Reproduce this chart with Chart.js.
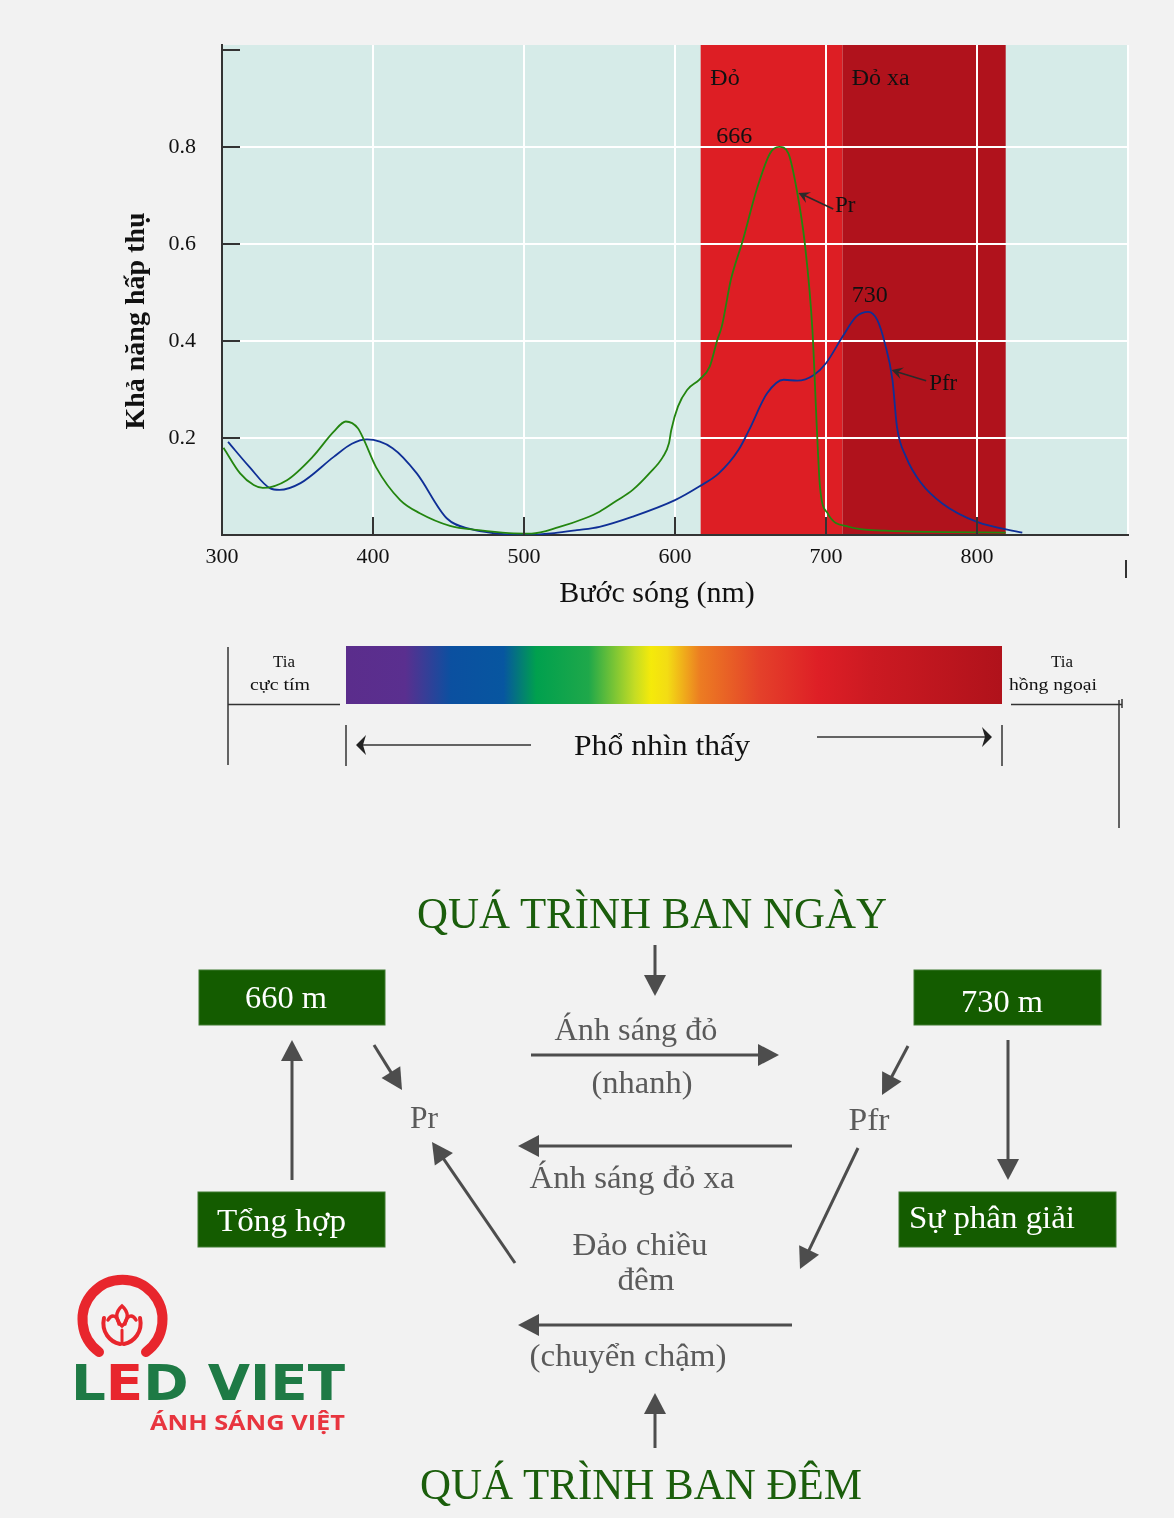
<!DOCTYPE html>
<html lang="vi">
<head>
<meta charset="utf-8">
<title>Phytochrome</title>
<script src="https://cdn.jsdelivr.net/npm/chart.js@4.4.1/dist/chart.umd.min.js"></script>
<style>
  html, body { margin: 0; padding: 0; background: #f2f2f2; }
  #page { position: relative; width: 1174px; height: 1518px; overflow: hidden; }
  #chartBox { position: absolute; left: 0; top: 0; width: 1174px; height: 620px; }
  #diagram { position: absolute; left: 0; top: 0; }
  #diagram text { font-family: "Liberation Serif", serif; }
</style>
</head>
<body>
<div id="page">
  <div id="chartBox"><canvas id="absorb" width="1174" height="620"></canvas></div>
  <svg id="diagram" width="1174" height="1518" viewBox="0 0 1174 1518" xmlns="http://www.w3.org/2000/svg">
    <defs>
      <linearGradient id="rainbow" x1="0" x2="1" y1="0" y2="0">
        <stop offset="0" stop-color="#5b2d8c"/>
        <stop offset="0.09" stop-color="#5a2f8f"/>
        <stop offset="0.16" stop-color="#0b50a0"/>
        <stop offset="0.24" stop-color="#0756a0"/>
        <stop offset="0.29" stop-color="#00a04e"/>
        <stop offset="0.37" stop-color="#1fa84a"/>
        <stop offset="0.44" stop-color="#c4dc24"/>
        <stop offset="0.465" stop-color="#f5ea0a"/>
        <stop offset="0.49" stop-color="#f3dc14"/>
        <stop offset="0.54" stop-color="#ec7c22"/>
        <stop offset="0.63" stop-color="#e4412a"/>
        <stop offset="0.72" stop-color="#de1f26"/>
        <stop offset="0.8" stop-color="#cc1a22"/>
        <stop offset="1" stop-color="#b0121b"/>
      </linearGradient>
    </defs>

    <!-- visible spectrum strip -->
    <rect x="346" y="646" width="656" height="58" fill="url(#rainbow)"/>
    <g stroke="#333" stroke-width="1.5" fill="none">
      <line x1="228" y1="647" x2="228" y2="765"/>
      <line x1="228" y1="704.5" x2="340" y2="704.5"/>
      <line x1="1011" y1="704.5" x2="1122" y2="704.5"/>
      <line x1="1119" y1="700" x2="1119" y2="828"/>
      <line x1="1122" y1="699" x2="1122" y2="708"/>
      <line x1="346" y1="725" x2="346" y2="766"/>
      <line x1="1002" y1="725" x2="1002" y2="766"/>
      <line x1="531" y1="745" x2="362" y2="745"/>
      <line x1="817" y1="737" x2="986" y2="737"/>
    </g>
    <path d="M356,745 L366,735 L363,745 L366,755 Z" fill="#222"/>
    <path d="M992,737 L982,727 L985,737 L982,747 Z" fill="#222"/>
    <g fill="#111" text-anchor="middle" font-size="17">
      <text x="284" y="667" textLength="22" lengthAdjust="spacingAndGlyphs">Tia</text>
      <text x="280" y="690" textLength="60" lengthAdjust="spacingAndGlyphs">cực tím</text>
      <text x="1062" y="667" textLength="22" lengthAdjust="spacingAndGlyphs">Tia</text>
      <text x="1053" y="690" textLength="88" lengthAdjust="spacingAndGlyphs">hồng ngoại</text>
    </g>
    <text x="662" y="755" font-size="29" fill="#111" text-anchor="middle" textLength="176" lengthAdjust="spacingAndGlyphs">Phổ nhìn thấy</text>

    <!-- day / night process diagram -->
    <text x="652" y="928" font-size="44" fill="#1b5e0c" text-anchor="middle" textLength="470" lengthAdjust="spacingAndGlyphs">QUÁ TRÌNH BAN NGÀY</text>
    <text x="641" y="1499" font-size="44" fill="#1b5e0c" text-anchor="middle" textLength="442" lengthAdjust="spacingAndGlyphs">QUÁ TRÌNH BAN ĐÊM</text>

    <g fill="#145c00" stroke="#3f7a30" stroke-width="1">
      <rect x="199" y="970" width="186" height="55"/>
      <rect x="914" y="970" width="187" height="55"/>
      <rect x="198" y="1192" width="187" height="55"/>
      <rect x="899" y="1192" width="217" height="55"/>
    </g>
    <g fill="#ffffff" font-size="32">
      <text x="286" y="1008" text-anchor="middle" textLength="82" lengthAdjust="spacingAndGlyphs">660 m</text>
      <text x="1002" y="1012" text-anchor="middle" textLength="82" lengthAdjust="spacingAndGlyphs">730 m</text>
      <text x="217" y="1231" textLength="129" lengthAdjust="spacingAndGlyphs">Tổng hợp</text>
      <text x="909" y="1228" textLength="166" lengthAdjust="spacingAndGlyphs">Sự phân giải</text>
    </g>
    <g fill="#5a5a5a" font-size="31" text-anchor="middle">
      <text x="636" y="1040" textLength="163" lengthAdjust="spacingAndGlyphs">Ánh sáng đỏ</text>
      <text x="642" y="1093" textLength="101" lengthAdjust="spacingAndGlyphs">(nhanh)</text>
      <text x="424" y="1128" textLength="28" lengthAdjust="spacingAndGlyphs">Pr</text>
      <text x="869" y="1130" textLength="41" lengthAdjust="spacingAndGlyphs">Pfr</text>
      <text x="632" y="1188" textLength="205" lengthAdjust="spacingAndGlyphs">Ánh sáng đỏ xa</text>
      <text x="640" y="1255" textLength="135" lengthAdjust="spacingAndGlyphs">Đảo chiều</text>
      <text x="646" y="1290" textLength="57" lengthAdjust="spacingAndGlyphs">đêm</text>
      <text x="628" y="1366" textLength="197" lengthAdjust="spacingAndGlyphs">(chuyển chậm)</text>
    </g>
    <g id="arrows"></g>

    <!-- logo -->
    <g fill="none" stroke="#e8262d" stroke-linecap="round">
      <path d="M99,1352 A40,40 0 1 1 146,1352" stroke-width="10"/>
      <path d="M122,1306 C115,1312 115,1320 122,1326 C129,1320 129,1312 122,1306 Z" stroke-width="3.5"/>
      <path d="M104,1318 C101,1332 110,1342 120,1344" stroke-width="4"/>
      <path d="M140,1318 C143,1332 134,1342 124,1344" stroke-width="4"/>
      <path d="M108,1320 C112,1313 118,1316 119,1324" stroke-width="3.5"/>
      <path d="M136,1320 C132,1313 126,1316 125,1324" stroke-width="3.5"/>
      <path d="M122,1330 L122,1344" stroke-width="3"/>
    </g>
    <text x="71" y="1400" font-weight="bold" font-size="50" textLength="274" lengthAdjust="spacingAndGlyphs" style="font-family:'DejaVu Sans',sans-serif"><tspan fill="#1e7a45">L</tspan><tspan fill="#e8262d">E</tspan><tspan fill="#1e7a45">D VIET</tspan></text>
    <text x="150" y="1430" font-weight="bold" font-size="21" fill="#e8353f" textLength="195" lengthAdjust="spacingAndGlyphs" style="font-family:'Open Sans',sans-serif">ÁNH SÁNG VIỆT</text>
  </svg>
</div>
<script>
// Absorption spectra of phytochrome
const wavelengthTicks = [300, 400, 500, 600, 700, 800, 900];
const absorbanceTicks = [0, 0.2, 0.4, 0.6, 0.8, 1.0];

const prWavelength = [301, 312, 321, 327, 343, 360, 374, 382, 390, 394, 402, 418, 431, 451, 470, 490, 505, 523, 540, 550,
  561, 572, 583, 592, 596, 597.5, 602, 608, 616, 623, 628, 631, 637, 645, 654, 663, 669, 675, 681, 686,
  691, 694, 696, 701, 715, 739, 780, 819];
const prAbsorbance = [0.18, 0.127, 0.103, 0.097, 0.113, 0.161, 0.213, 0.234, 0.22, 0.196, 0.14, 0.072, 0.045, 0.019, 0.01, 0.004, 0.003, 0.016, 0.034, 0.048,
  0.07, 0.093, 0.127, 0.161, 0.189, 0.216, 0.265, 0.299, 0.32, 0.347, 0.402, 0.43, 0.526, 0.608, 0.711, 0.787, 0.80, 0.787, 0.705, 0.60,
  0.423, 0.216, 0.10, 0.045, 0.017, 0.009, 0.006, 0.005];

const pfrWavelength = [304, 318, 332, 338, 352, 374, 386, 396, 413, 429, 449, 465, 480, 500, 520, 535, 550, 572, 600, 616,
  629, 642, 649, 661, 672, 681, 692, 700, 711, 720, 728, 734, 739, 744, 747, 753, 763, 777, 800, 830];
const pfrAbsorbance = [0.192, 0.141, 0.096, 0.093, 0.107, 0.161, 0.188, 0.197, 0.179, 0.127, 0.034, 0.012, 0.004, 0.0, 0.004, 0.01, 0.017, 0.038, 0.072, 0.10,
  0.127, 0.175, 0.216, 0.292, 0.32, 0.318, 0.33, 0.354, 0.409, 0.45, 0.46, 0.443, 0.395, 0.32, 0.223, 0.161, 0.107, 0.065, 0.027, 0.005];

// red (Đỏ) and far red (Đỏ xa) bands, nm
const bandEdges = [617, 711, 819];
const bandNames = ['Đỏ', 'Đỏ xa'];
const peakNames = ['666', '730'];

const SERIF = '"Liberation Serif", "Times New Roman", serif';
const bandColors = ['#dd1e24', '#b0121c'];

function arrowHead(ctx, x0, y0, x1, y1, len, half) {
  const a = Math.atan2(y1 - y0, x1 - x0);
  ctx.beginPath();
  ctx.moveTo(x1, y1);
  ctx.lineTo(x1 - len * Math.cos(a) + half * Math.sin(a), y1 - len * Math.sin(a) - half * Math.cos(a));
  ctx.lineTo(x1 - 0.6 * len * Math.cos(a), y1 - 0.6 * len * Math.sin(a));
  ctx.lineTo(x1 - len * Math.cos(a) - half * Math.sin(a), y1 - len * Math.sin(a) + half * Math.cos(a));
  ctx.closePath();
  ctx.fill();
}

const decor = {
  id: 'decor',
  beforeDraw(chart) {
    const { ctx, chartArea: a, scales: { x } } = chart;
    ctx.save();
    ctx.fillStyle = '#d6ebe8';
    ctx.fillRect(a.left, a.top, a.right - a.left, a.bottom - a.top);
    for (let i = 0; i < bandEdges.length - 1; i++) {
      const x0 = x.getPixelForValue(bandEdges[i]);
      const x1 = x.getPixelForValue(bandEdges[i + 1]);
      ctx.fillStyle = bandColors[i];
      ctx.fillRect(x0, a.top, x1 - x0, a.bottom - a.top);
    }
    ctx.restore();
  },
  afterDraw(chart) {
    const { ctx, chartArea: a, scales: { x, y } } = chart;
    ctx.save();
    // inward tick marks
    ctx.strokeStyle = '#333';
    ctx.lineWidth = 2;
    ctx.beginPath();
    absorbanceTicks.slice(1).forEach(v => {
      const py = Math.round(y.getPixelForValue(v));
      ctx.moveTo(a.left, py); ctx.lineTo(a.left + 18, py);
    });
    wavelengthTicks.slice(1, -1).forEach(v => {
      const px = Math.round(x.getPixelForValue(v));
      ctx.moveTo(px, a.bottom); ctx.lineTo(px, a.bottom - 18);
    });
    const pEnd = Math.round(x.getPixelForValue(900)) - 2;
    ctx.moveTo(pEnd, a.bottom + 25); ctx.lineTo(pEnd, a.bottom + 43);
    ctx.stroke();

    // labels inside the plot
    ctx.fillStyle = '#111';
    ctx.font = '24px ' + SERIF;
    ctx.textBaseline = 'alphabetic';
    ctx.textAlign = 'left';
    ctx.fillText(bandNames[0], x.getPixelForValue(623.4), y.getPixelForValue(0.928));
    ctx.fillText(bandNames[1], x.getPixelForValue(717), y.getPixelForValue(0.928));
    ctx.fillText(peakNames[0], x.getPixelForValue(627.4), y.getPixelForValue(0.808));
    ctx.fillText(peakNames[1], x.getPixelForValue(717), y.getPixelForValue(0.481));
    ctx.font = '23px ' + SERIF;
    ctx.fillText('Pr', x.getPixelForValue(705.9), y.getPixelForValue(0.665));
    ctx.fillText('Pfr', x.getPixelForValue(768.3), y.getPixelForValue(0.299));

    // pointer arrows
    ctx.strokeStyle = '#2a2a2a';
    ctx.fillStyle = '#2a2a2a';
    ctx.lineWidth = 1.6;
    const pointers = [[704.8, 0.672, 681.8, 0.705], [766.3, 0.318, 743.5, 0.34]];
    pointers.forEach(([u0, v0, u1, v1]) => {
      const x0 = x.getPixelForValue(u0), y0 = y.getPixelForValue(v0);
      const x1 = x.getPixelForValue(u1), y1 = y.getPixelForValue(v1);
      ctx.beginPath(); ctx.moveTo(x0, y0); ctx.lineTo(x1 + 4, y1 + 1.5); ctx.stroke();
      arrowHead(ctx, x0, y0, x1, y1, 11, 6);
    });

    // axis titles
    ctx.fillStyle = '#111';
    ctx.font = '30px ' + SERIF;
    ctx.textAlign = 'center';
    ctx.fillText('Bước sóng (nm)', 657, 602);
    ctx.font = 'bold 28px ' + SERIF;
    ctx.translate(144, 321);
    ctx.rotate(-Math.PI / 2);
    ctx.fillText('Khả năng hấp thụ', 0, 0);
    ctx.restore();
  }
};

const gridColor = ctx => (ctx.tick && (ctx.tick.value === 0 || ctx.tick.value === 300 || ctx.tick.value === 1)) ? 'rgba(0,0,0,0)' : '#ffffff';

new Chart(document.getElementById('absorb'), {
  type: 'line',
  data: {
    datasets: [
      {
        label: 'Pr',
        data: prWavelength.map((w, i) => ({ x: w, y: prAbsorbance[i] })),
        borderColor: '#23850f',
        borderWidth: 1.8,
        pointRadius: 0,
        fill: false,
        cubicInterpolationMode: 'monotone',
      },
      {
        label: 'Pfr',
        data: pfrWavelength.map((w, i) => ({ x: w, y: pfrAbsorbance[i] })),
        borderColor: '#0f2f96',
        borderWidth: 1.8,
        pointRadius: 0,
        fill: false,
        cubicInterpolationMode: 'monotone',
      },
    ],
  },
  options: {
    responsive: false,
    animation: false,
    layout: { padding: { left: 0, right: 46, top: 45, bottom: 0 } },
    plugins: { legend: { display: false }, tooltip: { enabled: false } },
    scales: {
      x: {
        type: 'linear',
        min: 300,
        max: 900,
        afterBuildTicks: s => { s.ticks = wavelengthTicks.map(v => ({ value: v })); },
        afterFit: s => { s.height = 85; },
        grid: { color: gridColor, lineWidth: 2, drawTicks: false },
        border: { color: '#333', width: 2 },
        ticks: {
          padding: 9,
          color: '#111',
          font: { family: SERIF, size: 22 },
          maxRotation: 0,
          callback: v => (v === 900 ? '' : String(v)),
        },
      },
      y: {
        min: 0,
        max: 1.01,
        afterBuildTicks: s => { s.ticks = absorbanceTicks.map(v => ({ value: v })); },
        afterFit: s => { s.width = 222; },
        grid: { color: gridColor, lineWidth: 2, drawTicks: false },
        border: { color: '#333', width: 2 },
        ticks: {
          padding: 26,
          color: '#111',
          font: { family: SERIF, size: 22 },
          callback: v => (v === 0 || v === 1 ? '' : v.toFixed(1)),
        },
      },
    },
  },
  plugins: [decor],
});

// arrows of the diagram
const arrows = [
  [655, 945, 655, 996],
  [292, 1180, 292, 1040],
  [374, 1045, 402, 1090],
  [531, 1055, 779, 1055],
  [908, 1046, 882, 1095],
  [792, 1146, 518, 1146],
  [858, 1148, 800, 1269],
  [515, 1263, 432, 1142],
  [792, 1325, 518, 1325],
  [655, 1448, 655, 1393],
  [1008, 1040, 1008, 1180],
];
const g = document.getElementById('arrows');
const NS = 'http://www.w3.org/2000/svg';
arrows.forEach(([x0, y0, x1, y1]) => {
  const L = Math.hypot(x1 - x0, y1 - y0);
  const ux = (x1 - x0) / L, uy = (y1 - y0) / L;
  const head = 21, half = 11;
  const line = document.createElementNS(NS, 'line');
  line.setAttribute('x1', x0); line.setAttribute('y1', y0);
  line.setAttribute('x2', x1 - ux * (head - 2)); line.setAttribute('y2', y1 - uy * (head - 2));
  line.setAttribute('stroke', '#4d4d4d'); line.setAttribute('stroke-width', '3');
  g.appendChild(line);
  const bx = x1 - ux * head, by = y1 - uy * head;
  const tri = document.createElementNS(NS, 'path');
  tri.setAttribute('d', `M${x1},${y1} L${bx - uy * half},${by + ux * half} L${bx + uy * half},${by - ux * half} Z`);
  tri.setAttribute('fill', '#4d4d4d');
  g.appendChild(tri);
});
</script>
</body>
</html>
